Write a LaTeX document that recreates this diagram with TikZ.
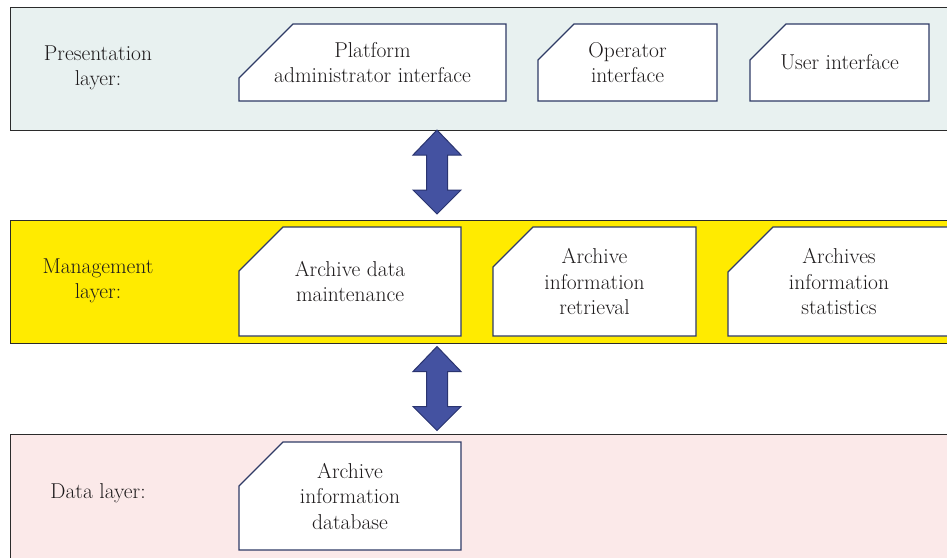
\documentclass[tikz,border=0pt]{standalone}
\usepackage{fontspec}
\definecolor{presfill}{HTML}{E8F1F0}
\definecolor{mgmtfill}{HTML}{FFEB00}
\definecolor{datafill}{HTML}{FBE9E9}
\definecolor{bandline}{HTML}{2B2B2B}
\definecolor{cardline}{HTML}{2F3B66}
\definecolor{arrowfill}{HTML}{4452A1}
\definecolor{arrowline}{HTML}{2A3470}
\definecolor{txt}{HTML}{1E1B1C}
\newcommand\mycard[7]{%
  \node[cardbox, minimum width=#4pt, minimum height=#5pt] (#1) at (#2,#3) {};
  \filldraw[cardedge] ([yshift=-#6pt]#1.north west) -- ([xshift=#6pt]#1.north west)
     -- (#1.north east) -- (#1.south east) -- (#1.south west) -- cycle;
  \node[cardtext] (#1-t) at (#1) {#7};
}
\newcommand\myarrow[1]{%
  \filldraw[arrowshape] (#1) ++(0,-42) -- ++(24,25) -- ++(-13.5,0) -- ++(0,35)
     -- ++(13.5,0) -- ++(-24,24) -- ++(-24,-24) -- ++(13.5,0) -- ++(0,-35)
     -- ++(-13.5,0) -- cycle;
}
\begin{document}
\begin{tikzpicture}[x=1pt,y=-1pt,
  band/.style={draw=bandline, line width=1.4pt, inner sep=0pt, anchor=north west, minimum width=950pt},
  cardbox/.style={inner sep=0pt, outer sep=0pt},
  cardedge/.style={draw=cardline, fill=white, line width=1.3pt},
  cardtext/.style={align=center, text=txt, font=\fontsize{21.5}{25.5}\selectfont, inner sep=0pt},
  lbl/.style={align=center, text=txt, font=\fontsize{21.5}{25.5}\selectfont, inner sep=0pt},
  arrowshape/.style={draw=arrowline, fill=arrowfill, line width=1pt, line join=miter}
]
\useasboundingbox (0,0) rectangle (947,557);
\clip (0,0) rectangle (947,557);
\fill[white] (0,0) rectangle (947,557);

% bands
\node[band, fill=presfill, minimum height=123pt] (pres) at (10,7) {};
\node[band, fill=mgmtfill, minimum height=123pt] (mgmt) at (10,220) {};
\node[band, fill=datafill, minimum height=140pt] (data) at (10,434) {};

% layer labels
\node[lbl] (presl) at (98,68) {Presentation\\layer:};
\node[lbl] (mgmtl) at (98,281) {Management\\layer:};
\node[lbl] (datal) at (98,493) {Data layer:};

% cards
\mycard{pai}{372.5}{62.5}{267}{77}{54}{Platform\\administrator interface}
\mycard{opi}{627.5}{62.5}{179}{77}{36}{Operator\\interface}
\mycard{ui}{839.5}{62.5}{179}{77}{36}{User interface}
\mycard{adm}{350}{281.5}{222}{109}{44}{Archive data\\maintenance}
\mycard{air}{594.5}{281.5}{203}{109}{40}{Archive\\information\\retrieval}
\mycard{ais}{839}{281.5}{222}{109}{45}{Archives\\information\\statistics}
\mycard{aid}{350}{496}{222}{108}{44}{Archive\\information\\database}

% arrows between layers
\coordinate (a1) at (437,172);
\coordinate (a2) at (437,388.5);
\myarrow{a1}
\myarrow{a2}
\end{tikzpicture}
\end{document}
